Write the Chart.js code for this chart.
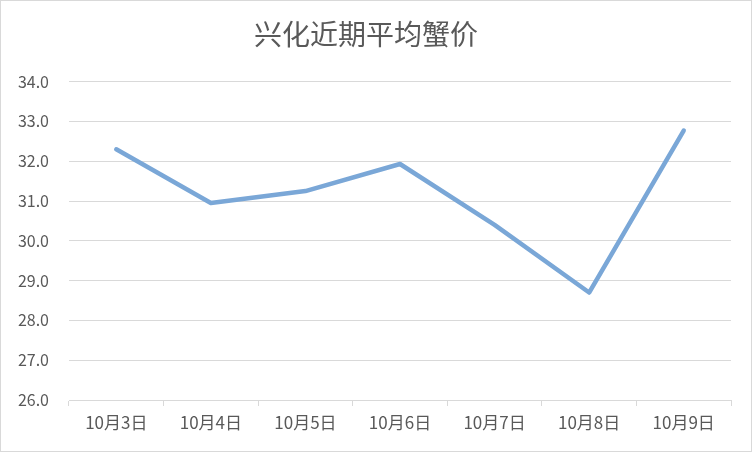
<!DOCTYPE html>
<html>
<head>
<meta charset="utf-8">
<script src="https://cdn.jsdelivr.net/npm/chart.js@4"></script>
<style>
  body { margin: 0; background: #fff; }
  #wrap { width: 752px; height: 452px; box-sizing: border-box; border: 1px solid #d9d9d9; }
</style>
</head>
<body>
<div id="wrap"><canvas id="myChart" width="750" height="450"></canvas></div>
<script>
const ctx = document.getElementById('myChart');

const titleText = '兴化近期平均蟹价';
const days = ['10月3日', '10月4日', '10月5日', '10月6日', '10月7日', '10月8日', '10月9日'];
const prices = [32.3, 30.95, 31.25, 31.93, 30.4, 28.7, 32.77];
const yMin = 26;
const yMax = 34;

const textColor = '#595959';
const gridColor = '#d9d9d9';
const cjkFont = '"Noto Sans CJK SC", "Noto Sans", sans-serif';

new Chart(ctx, {
  type: 'line',
  data: {
    labels: days,
    datasets: [{
      data: prices,
      borderColor: '#7aa7d7',
      borderWidth: 4.5,
      pointRadius: 0,
      tension: 0,
      borderCapStyle: 'round',
      borderJoinStyle: 'round'
    }]
  },
  options: {
    responsive: false,
    animation: false,
    layout: { padding: { left: 0, right: 20, top: 0, bottom: 0 } },
    plugins: {
      legend: { display: false },
      tooltip: { enabled: false },
      title: {
        display: true,
        text: titleText,
        color: textColor,
        font: { family: cjkFont, size: 28, weight: 'normal' },
        padding: { top: 17, bottom: 30 }
      }
    },
    scales: {
      x: {
        offset: true,
        grid: {
          offset: true,
          drawOnChartArea: false,
          drawTicks: true,
          tickLength: 6,
          color: gridColor
        },
        border: { color: gridColor },
        ticks: {
          color: textColor,
          font: { family: cjkFont, size: 17 },
          padding: 6,
          maxRotation: 0
        },
        afterFit: (scale) => { scale.height = 51; }
      },
      y: {
        min: yMin,
        max: yMax,
        grid: { color: gridColor, drawTicks: false },
        border: { display: false },
        ticks: {
          stepSize: 1,
          color: textColor,
          font: { family: cjkFont, size: 16 },
          padding: 20,
          callback: (v) => v.toFixed(1)
        },
        afterFit: (scale) => { scale.width = 68; }
      }
    }
  }
});
</script>
</body>
</html>
